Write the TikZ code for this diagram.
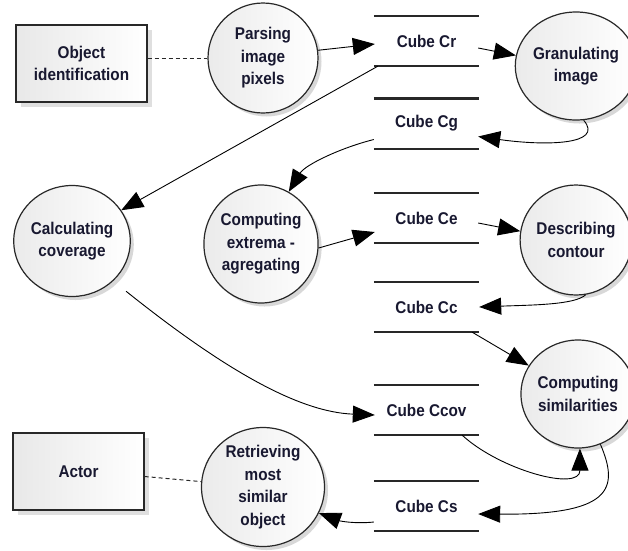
\documentclass[tikz,border=0pt]{standalone}
\usepackage{fontspec}
\setmainfont{Liberation Sans}[FakeStretch=0.9]
\usetikzlibrary{shapes.geometric,shadows,arrows.meta,calc}
\definecolor{txt}{RGB}{24,24,48}
\definecolor{edge}{RGB}{40,40,40}
\begin{document}
\begin{tikzpicture}[x=1pt,y=-1pt,
  every node/.style={font=\fontsize{17}{22.5}\selectfont\bfseries, text=txt, align=center},
  proc/.style={ellipse, draw=edge, line width=1.2pt, inner sep=0pt,
    left color=black!8, right color=white,
    drop shadow={shadow xshift=3.5pt, shadow yshift=-3.5pt, fill=black!30}},
  actorbox/.style={rectangle, draw=edge, line width=1.2pt, inner sep=0pt,
    minimum width=131pt, minimum height=77pt,
    left color=black!9, right color=white,
    drop shadow={shadow xshift=5pt, shadow yshift=-5pt, fill=black!25}},
  store/.style={minimum width=105pt, minimum height=50pt, inner sep=0pt},
  storeline/.style={draw=edge, line width=2.4pt},
  flow/.style={draw=black, line width=0.9pt, -{Triangle[length=22pt,width=17pt]}},
  assoc/.style={draw=edge, line width=1pt, dash pattern=on 4pt off 3pt}]
\useasboundingbox (0,0) rectangle (628,550);

% actors
\node[actorbox] (obj) at (81.5,63.5) {Object\\identification};
\node[actorbox] (actor) at (78.5,471.5) {Actor};

% processes
\node[proc, minimum width=110pt, minimum height=110pt] (parse) at (263,58) {Parsing\\image\\pixels};
\node[proc, minimum width=106pt, minimum height=108pt] (gran) at (576,66) {Granulating\\image};
\node[proc, minimum width=109pt, minimum height=111pt] (calc) at (72,241) {Calculating\\coverage};
\node[proc, minimum width=111pt, minimum height=118pt] (extr) at (261,244) {Computing\\extrema -\\agregating};
\node[proc, minimum width=104pt, minimum height=110pt] (desc) at (576,240) {Describing\\contour};
\node[proc, minimum width=106pt, minimum height=108pt] (sim) at (578,394) {Computing\\similarities};
\node[proc, minimum width=123pt, minimum height=119pt] (retr) at (263,487) {Retrieving\\most\\similar\\object};

% data stores
\node[store] (cr) at (426.5,41) {Cube Cr};
\node[store] (cg) at (426.5,123.5) {Cube Cg};
\node[store] (ce) at (426.5,218) {Cube Ce};
\node[store] (cc) at (426.5,307) {Cube Cc};
\node[store] (ccov) at (426.5,410) {Cube Ccov};
\node[store] (cs) at (426.5,506) {Cube Cs};
\foreach \s in {cr,cg,ce,cc,ccov,cs}
  \draw[storeline] (\s.north west) -- (\s.north east) (\s.south west) -- (\s.south east);

% associations
\draw[assoc] (obj.east |- parse.west) -- (parse.west);
\draw[assoc] ($(actor.east)+(0,5)$) -- (retr.175);

% data flows
\draw[flow] (parse.8) -- ($(cr.west)+(1,3)$);
\draw[flow] ($(cr.east)+(-1,7)$) -- (gran.170);
\draw[flow] (gran.-82) .. controls (605,145) and (545,146) .. ($(cg.east)+(-1,13)$);
\draw[flow] ($(cg.west)+(0,16)$) .. controls (340,148) and (305,165) .. (extr.62);
\draw[flow] ($(cr.south west)+(4,0)$) -- (calc.32);
\draw[flow] (extr.-4) -- ($(ce.west)+(1,14)$);
\draw[flow] ($(ce.east)+(-1,5)$) -- (desc.171);
\draw[flow] (desc.-80) .. controls (575,305) and (530,305) .. (cc.east);
\draw[flow] ($(cc.south east)+(-7,0)$) -- (sim.150);
\draw[flow] ($(calc.-43)+(12,11)$) .. controls (227,372) and (300,412) .. ($(ccov.west)+(1,5)$);
\draw[flow] ($(ccov.south east)+(-17,0)$) .. controls (500,470) and (580,492) .. (sim.-88);
\draw[flow] (sim.-66) .. controls (620,490) and (610,515) .. ($(cs.east)+(-1,8)$);
\draw[flow] ($(cs.west)+(0,16)$) .. controls (355,524) and (340,521) .. (retr.-25);
\end{tikzpicture}
\end{document}
